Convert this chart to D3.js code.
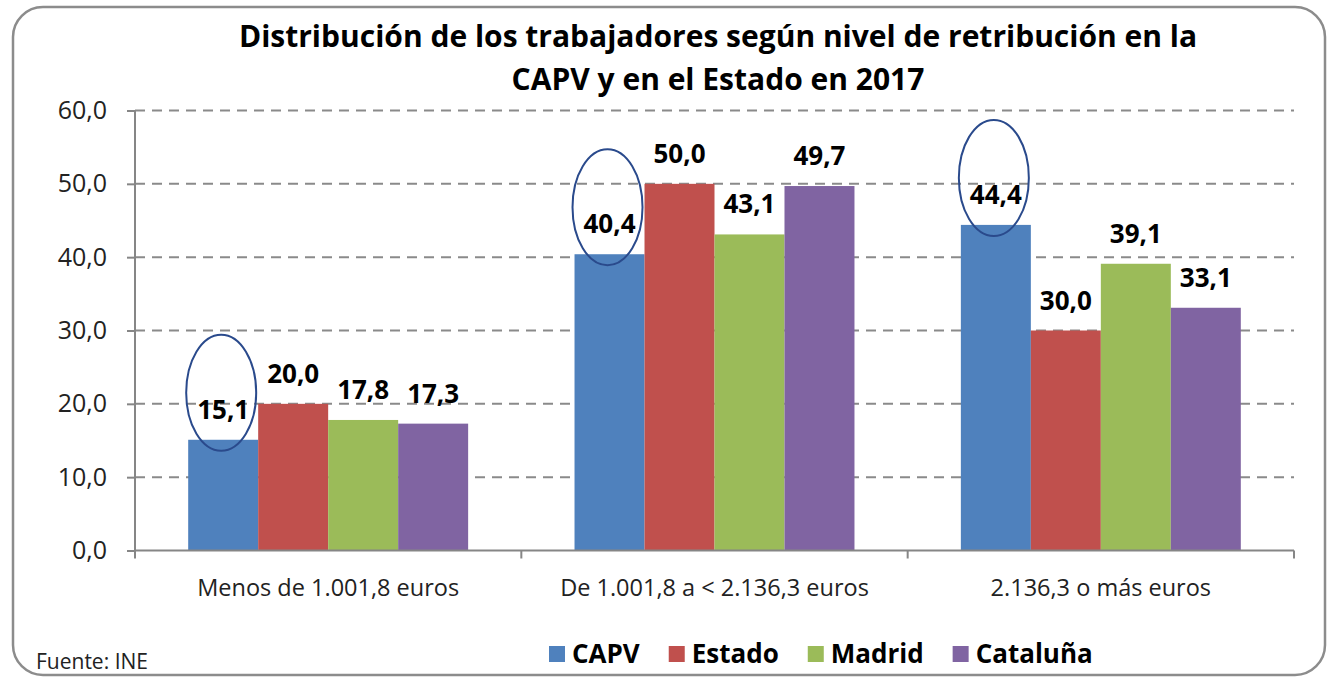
<!DOCTYPE html>
<html>
<head>
<meta charset="utf-8">
<script src="https://cdn.jsdelivr.net/npm/d3@7"></script>
<style>
  body { margin: 0; background: #fff; }
  svg { display: block; font-family: "Open Sans", sans-serif; }
</style>
</head>
<body>
<div class="graph"></div>
<script>
const categories = ["Menos de 1.001,8 euros", "De 1.001,8 a < 2.136,3 euros", "2.136,3 o más euros"];
const seriesNames = ["CAPV", "Estado", "Madrid", "Cataluña"];
const capv = [15.1, 40.4, 44.4];
const estado = [20.0, 50.0, 30.0];
const madrid = [17.8, 43.1, 39.1];
const cataluna = [17.3, 49.7, 33.1];
const yTicks = [0, 10, 20, 30, 40, 50, 60];
const titleLines = ["Distribución de los trabajadores según nivel de retribución en la", "CAPV y en el Estado en 2017"];
const source = "Fuente: INE";

const width = 1332, height = 678;
const colors = ["#4F81BD", "#C0504D", "#9BBB59", "#8064A2"];
const allSeries = [capv, estado, madrid, cataluna];
const fmt = v => d3.format(".1f")(v).replace(".", ",");

const svg = d3.select(".graph").append("svg")
  .attr("width", width)
  .attr("height", height);

// frame
svg.append("rect")
  .attr("x", 13).attr("y", 7)
  .attr("width", 1312).attr("height", 668)
  .attr("rx", 30)
  .attr("fill", "#fff")
  .attr("stroke", "#8c8c8c")
  .attr("stroke-width", 2.5);

const x0 = d3.scaleBand().domain(categories).range([135, 1294]);
const x1 = d3.scaleBand().domain(seriesNames).range([0, x0.bandwidth()]).paddingInner(0).paddingOuter(0.76);
const y = d3.scaleLinear().domain([0, 60]).range([550.5, 110.5]);

// grid
svg.append("g")
  .selectAll("line")
  .data(yTicks.filter(d => d > 0))
  .join("line")
  .attr("x1", 135).attr("x2", 1294)
  .attr("y1", d => y(d)).attr("y2", d => y(d))
  .attr("stroke", "#8a8a8a")
  .attr("stroke-width", 2)
  .attr("stroke-dasharray", "10,7");

// bars
const rows = categories.map((c, i) => ({cat: c, vals: allSeries.map((s, j) => ({name: seriesNames[j], v: s[i], color: colors[j]}))}));

const groups = svg.append("g").selectAll("g")
  .data(rows)
  .join("g")
  .attr("transform", d => `translate(${x0(d.cat)},0)`);

groups.selectAll("rect")
  .data(d => d.vals)
  .join("rect")
  .attr("x", d => x1(d.name))
  .attr("y", d => y(d.v))
  .attr("width", x1.bandwidth())
  .attr("height", d => y(0) - y(d.v))
  .attr("fill", d => d.color);

groups.selectAll("text")
  .data(d => d.vals)
  .join("text")
  .attr("x", d => x1(d.name) + x1.bandwidth() / 2)
  .attr("y", d => y(d.v) - 21)
  .attr("text-anchor", "middle")
  .attr("font-weight", "bold")
  .attr("font-size", 26)
  .attr("fill", "#000")
  .text(d => fmt(d.v));

// ellipses round CAPV labels
groups.append("ellipse")
  .attr("cx", d => x1("CAPV") + x1.bandwidth() / 2 - 2)
  .attr("cy", d => y(d.vals[0].v) - 47)
  .attr("rx", 35).attr("ry", 58)
  .attr("fill", "none")
  .attr("stroke", "#2a4a8c")
  .attr("stroke-width", 2);

// y axis
const yAxis = d3.axisLeft(y).tickValues(yTicks).tickSize(8).tickPadding(20).tickFormat(fmt);
const gy = svg.append("g").attr("transform", "translate(135,0)").call(yAxis);
gy.select(".domain").attr("stroke", "#868686").attr("stroke-width", 2).attr("d", "M0,110.5V557");
gy.selectAll(".tick line").attr("stroke", "#868686").attr("stroke-width", 2);
gy.selectAll(".tick text").attr("font-size", 25).attr("fill", "#222").attr("font-family", "'Open Sans', sans-serif");

// x axis
const gx = svg.append("g").attr("transform", "translate(0,550.5)");
gx.append("line").attr("x1", 135).attr("x2", 1294).attr("stroke", "#868686").attr("stroke-width", 2);
gx.selectAll(".sep")
  .data([0, 1, 2, 3])
  .join("line")
  .attr("x1", i => i < 3 ? x0(categories[i]) : x0(categories[2]) + x0.bandwidth())
  .attr("x2", i => i < 3 ? x0(categories[i]) : x0(categories[2]) + x0.bandwidth())
  .attr("y1", 0).attr("y2", 8)
  .attr("stroke", "#868686").attr("stroke-width", 2);
gx.selectAll(".cat")
  .data(categories)
  .join("text")
  .attr("x", d => x0(d) + x0.bandwidth() / 2)
  .attr("y", 45)
  .attr("text-anchor", "middle")
  .attr("font-size", 23.5)
  .attr("fill", "#222")
  .text(d => d);

// title
svg.append("g").selectAll("text")
  .data(titleLines)
  .join("text")
  .attr("x", 718)
  .attr("y", (d, i) => 47 + i * 43)
  .attr("text-anchor", "middle")
  .attr("font-weight", "bold")
  .attr("font-size", 30)
  .attr("fill", "#000")
  .text(d => d);

// legend
const legend = svg.append("g").attr("transform", "translate(549,654)");
let lx = 0;
seriesNames.forEach((n, i) => {
  legend.append("rect").attr("x", lx).attr("y", -8).attr("width", 16).attr("height", 16).attr("fill", colors[i]);
  const t = legend.append("text").attr("x", lx + 23).attr("y", 9)
    .attr("font-weight", "bold").attr("font-size", 26).attr("fill", "#000").text(n);
  lx += 23 + t.node().getComputedTextLength() + 29;
});

svg.append("text")
  .attr("x", 36).attr("y", 669)
  .attr("font-size", 21)
  .attr("fill", "#222")
  .text(source);
</script>
</body>
</html>
